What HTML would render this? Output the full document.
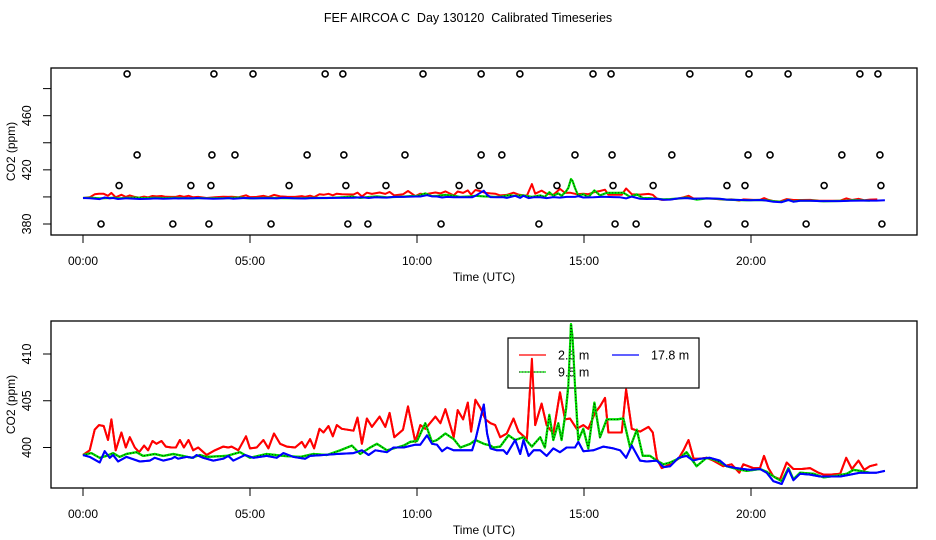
<!DOCTYPE html>
<html><head><meta charset="utf-8"><style>
html,body{margin:0;padding:0;background:#fff;}
svg{display:block;font-family:"Liberation Sans",sans-serif;}
</style></head><body>
<svg id="chart" width="936" height="540" viewBox="0 0 936 540" xmlns="http://www.w3.org/2000/svg">
<rect x="0" y="0" width="936" height="540" fill="#fff"/>
<text x="468" y="22" text-anchor="middle" font-size="12.5" style="white-space:pre" xml:space="preserve">FEF AIRCOA C  Day 130120  Calibrated Timeseries</text>
<g id="top"></g>
<g id="bot"></g>
</svg>
<script>
// ---- data (hours UTC, CO2 ppm) ----
const redT=[0,0.2,0.35,0.48,0.62,0.75,0.85,0.98,1.15,1.28,1.4,1.55,1.68,1.83,1.95,2.08,2.2,2.35,2.48,2.65,2.78,2.9,3.02,3.16,3.3,3.45,3.7,3.95,4.2,4.35,4.45,4.65,4.88,5,5.2,5.4,5.55,5.72,5.9,6.1,6.35,6.55,6.65,6.8,6.92,7.08,7.2,7.35,7.48,7.6,7.75,8.1,8.22,8.35,8.5,8.65,8.88,9.05,9.18,9.32,9.58,9.73,9.95,10.1,10.25,10.55,10.7,10.85,11.1,11.22,11.38,11.52,11.62,11.75,11.9,12.05,12.2,12.34,12.49,12.69,12.89,13.04,13.29,13.44,13.54,13.73,13.88,14.08,14.28,14.43,14.58,14.78,14.98,15.13,15.33,15.48,15.63,15.73,16.13,16.26,16.43,16.68,16.93,17.06,17.18,17.33,17.58,17.83,17.98,18.13,18.28,18.48,18.67,18.87,19.17,19.42,19.65,19.77,20.07,20.27,20.39,20.52,20.67,20.87,21.07,21.27,21.52,21.77,22.02,22.17,22.37,22.67,22.85,23.02,23.22,23.39,23.56,23.78];
const redV=[399.2,399.7,401.9,402.4,402.3,400.8,403.0,399.7,401.6,400.0,401.1,400.0,399.5,400.2,399.7,400.7,400.4,400.7,400.1,400.0,400.0,400.8,400.0,400.8,399.7,400.0,399.2,399.7,400.1,400.0,400.1,399.7,401.2,399.9,400.0,400.8,399.9,401.5,400.4,400.1,400.0,400.6,400.0,400.9,399.9,402.0,401.6,402.3,401.2,402.4,402.0,401.8,403.2,400.4,403.1,402.2,403.3,402.2,403.7,401.1,401.9,404.4,400.6,402.4,402.0,403.3,402.6,404.1,401.1,404.0,403.0,404.8,401.7,405.1,404.2,403.0,402.6,402.4,401.1,401.5,403.1,401.7,400.9,409.5,402.4,404.7,402.4,401.5,405.9,403.0,403.1,402.0,402.4,402.0,403.7,404.4,405.3,401.6,401.6,406.2,402.0,401.7,402.2,401.6,398.8,397.8,398.2,398.8,399.7,400.8,398.8,398.8,398.9,398.6,398.0,398.2,397.3,398.2,397.8,397.8,399.1,397.8,396.9,396.6,398.4,397.7,397.7,397.8,397.3,397.1,397.1,397.2,398.9,397.7,398.6,397.6,398.0,398.2];
const greenT=[0,0.25,0.5,0.7,0.9,1.1,1.3,1.6,1.8,2.15,2.4,2.7,3,3.25,3.5,3.7,4.3,4.7,5,5.5,6,6.5,6.9,7.3,7.7,8.05,8.3,8.6,8.8,9.1,9.4,9.6,9.8,10,10.25,10.45,10.6,10.85,11.1,11.3,11.6,11.75,12,12.2,12.29,12.49,12.74,12.94,13.19,13.44,13.69,13.83,13.96,14.08,14.23,14.33,14.46,14.53,14.61,14.66,14.73,14.83,14.98,15.13,15.31,15.48,15.68,15.98,16.18,16.38,16.58,16.76,16.98,17.18,17.38,17.58,17.88,18.07,18.37,18.67,18.97,19.27,19.57,19.87,20.27,20.47,20.72,20.92,21.12,21.27,21.47,21.87,22.17,22.57,22.87,23.07,23.27,23.56];
const greenV=[399.2,399.4,398.9,399.1,399.4,399.0,399.3,399.5,399.1,399.3,399.1,399.3,399.1,398.9,399.2,399.0,399.1,399.5,398.9,399.3,399.1,399.0,399.3,399.2,399.7,400.2,399.3,400.0,400.4,399.7,400.0,400.2,400.6,400.7,402.6,400.6,400.8,401.5,400.9,400.0,400.4,400.8,400.4,400.2,400.0,400.1,401.3,400.8,401.1,400.1,401.1,400.0,403.5,400.8,402.6,400.8,404.1,406.6,413.2,411.7,406.6,400.8,402.0,399.9,404.8,401.1,403.0,403.0,403.1,400.0,401.9,399.1,399.1,398.6,398.2,398.4,398.9,399.5,398.0,398.9,398.6,398.0,397.7,397.5,397.7,397.4,396.8,396.4,397.8,396.6,397.3,397.2,396.8,397.0,397.2,397.6,397.5,397.3];
const blueT=[0,0.2,0.5,0.65,0.8,0.9,1.05,1.3,1.7,2,2.15,2.4,2.65,2.75,2.85,3.1,3.3,3.4,3.6,3.9,4.2,4.35,4.5,4.85,5.1,5.5,5.8,6,6.3,6.65,6.8,7.2,7.6,8.1,8.35,8.55,8.75,9.1,9.3,9.6,9.95,10.1,10.3,10.45,10.6,10.75,10.9,11.1,11.4,11.65,11.75,12,12.1,12.2,12.39,12.59,12.69,12.94,13.09,13.19,13.34,13.49,13.69,13.88,14.08,14.28,14.48,14.73,14.83,14.98,15.28,15.58,15.88,16.08,16.26,16.43,16.68,16.88,17.18,17.38,17.58,17.83,18.07,18.27,18.47,18.77,19.07,19.27,19.57,19.97,20.27,20.47,20.67,20.92,21.12,21.27,21.47,21.77,22.07,22.37,22.67,22.97,23.27,23.56,23.76,24.01];
const blueV=[399.2,399.0,398.4,399.6,398.9,399.2,398.5,399.0,398.5,398.6,398.9,398.6,398.8,399.0,398.8,399.0,398.9,399.2,398.9,398.6,398.8,399.1,398.6,399.2,398.9,399.1,398.9,399.4,399.0,398.8,399.1,399.2,399.3,399.4,399.7,399.2,399.7,399.5,400.0,400.0,400.3,400.3,401.3,400.4,400.3,399.6,400.0,399.7,399.7,399.7,400.8,404.6,401.5,399.9,399.7,399.7,399.3,400.8,399.3,400.8,399.1,399.7,399.7,399.1,399.9,399.5,400.0,400.0,400.6,399.6,399.7,400.1,399.9,399.7,398.9,400.2,398.6,398.5,398.6,397.9,398.0,398.9,399.1,398.6,398.8,398.9,398.6,398.0,397.8,397.6,397.7,397.3,396.4,396.1,397.7,396.5,397.2,397.1,396.9,396.9,396.9,397.1,397.3,397.3,397.3,397.5];
// calibration/reference points in top panel
const ptT=[1.32,3.92,5.09,7.25,7.78,10.18,11.92,13.08,15.27,15.81,18.17,19.94,21.11,23.26,23.80,
 1.62,3.86,4.55,6.71,7.81,9.64,11.92,12.54,14.73,15.84,17.63,19.91,20.57,22.72,23.86,
 1.08,3.23,3.83,6.17,7.87,9.07,11.26,11.86,14.19,15.87,17.07,19.28,19.82,22.19,23.89,
 0.54,2.69,3.77,5.63,7.93,8.53,10.72,13.65,15.93,16.56,18.71,19.82,21.65,23.92];
const ptV=[490.8,490.8,490.8,490.8,490.8,490.8,490.8,490.8,490.8,490.8,490.8,490.8,490.8,490.8,490.8,
 431,431,431,431,431,431,431,431,431,431,431,431,431,431,431,
 408.4,408.4,408.4,408.4,408.4,408.4,408.4,408.4,408.4,408.4,408.4,408.4,408.4,408.4,408.4,
 380,380,380,380,380,380,380,380,380,380,380,380,380,380];
const xTickHours=[0,5,10,15,20];
const xTickLabels=["00:00","05:00","10:00","15:00","20:00"];
const topYTicks=[380,400,420,440,460,480];
const topYLabels=[380,420,460];
const botYTicks=[400,405,410];
const botYLabels=[400,405,410];
const seriesNames=["2.6 m","9.5 m","17.8 m"];

const NS="http://www.w3.org/2000/svg";
function mk(tag,attrs,parent){const e=document.createElementNS(NS,tag);for(const k in attrs)e.setAttribute(k,attrs[k]);parent.appendChild(e);return e;}
const X=h=>83+h*33.4;

function panel(g,box,yScale,yTicks,yLabels,name){
  const f=mk('rect',{x:box.x,y:box.y,width:box.w,height:box.h,fill:'none',stroke:'#000','stroke-width':1.3},g);
  
  
  const by=box.y+box.h;
  xTickHours.forEach((h,i)=>{
    const t=mk('line',{x1:X(h),x2:X(h),y1:by,y2:by+8,stroke:'#000'},g);
    
    
    const l=mk('text',{x:X(h),y:by+30,'text-anchor':'middle','font-size':12},g);
    l.textContent=xTickLabels[i];
    
    
  });
  yTicks.forEach(v=>{
    const y=yScale(v);
    const t=mk('line',{x1:box.x-8,x2:box.x,y1:y,y2:y,stroke:'#000'},g);
    
    
  });
  yLabels.forEach(v=>{
    const y=yScale(v);
    const l=mk('text',{x:0,y:0,'text-anchor':'middle','font-size':12.5,transform:`translate(31,${y}) rotate(-90)`},g);
    l.textContent=v;
    
    
  });
  const xl=mk('text',{x:484,y:by+46,'text-anchor':'middle','font-size':12},g);
  xl.textContent='Time (UTC)';
  
  
  const yl=mk('text',{x:0,y:0,'text-anchor':'middle','font-size':12,transform:`translate(15,${box.y+box.h/2}) rotate(-90)`},g);
  yl.textContent='CO2 (ppm)';
  
  
  const cid='clip-'+name;
  const cp=mk('clipPath',{id:cid},g);mk('rect',{x:box.x,y:box.y,width:box.w,height:box.h},cp);
  const sg=mk('g',{'clip-path':`url(#${cid})`},g);
  const pts=(T,V)=>T.map((t,i)=>X(t).toFixed(1)+','+yScale(V[i]).toFixed(1)).join(' ');
  const r=mk('polyline',{points:pts(redT,redV),fill:'none',stroke:'#f00','stroke-width':2,'stroke-linejoin':'round'},sg);
  
  
  const gr=mk('polyline',{points:pts(greenT,greenV),fill:'none',stroke:'#00e000','stroke-width':2.2,'stroke-linejoin':'round'},sg);
  
  
  mk('polyline',{points:pts(greenT,greenV),fill:'none',stroke:'#000','stroke-width':0.8,'stroke-dasharray':'1,2'},sg);
  const b=mk('polyline',{points:pts(blueT,blueV),fill:'none',stroke:'#00f','stroke-width':2,'stroke-linejoin':'round'},sg);
  
  
  return sg;
}

// top panel
const topBox={x:51,y:68,w:866,h:167};
const topY=v=>224-(v-380)*1.354;
const topG=document.getElementById('top');
const topSg=panel(topG,topBox,topY,topYTicks,topYLabels,'top');
ptT.forEach((t,i)=>{
  const c=mk('circle',{cx:X(t),cy:topY(ptV[i]),r:3,fill:'none',stroke:'#000','stroke-width':1.6},topG);
  
  
});

// bottom panel
const botBox={x:51,y:321,w:866,h:167};
const botY=v=>447.5-(v-400)*9.35;
const botG=document.getElementById('bot');
panel(botG,botBox,botY,botYTicks,botYLabels,'bottom');

// legend
const lg=mk('g',{},botG);


mk('rect',{x:508,y:338,width:191,height:50,fill:'#fff',stroke:'#000','stroke-width':1.2},lg);
const leg=[{x:519,y:355,c:'#f00'},{x:519,y:372,c:'#00e000'},{x:612,y:355,c:'#00f'}];
leg.forEach((e,i)=>{
  const l=mk('line',{x1:e.x,x2:e.x+27,y1:e.y,y2:e.y,stroke:e.c,'stroke-width':1.2},lg);
  
  
  if(i===1)mk('line',{x1:e.x,x2:e.x+27,y1:e.y,y2:e.y,stroke:'#000','stroke-width':0.8,'stroke-dasharray':'1,2'},lg);
  const t=mk('text',{x:e.x+39,y:e.y+4.5,'font-size':12.5},lg);
  t.textContent=seriesNames[i];
  
  
});
// series drawn over the legend (as in reference)
const cp2=mk('clipPath',{id:'clip-legover'},botG);mk('rect',{x:51,y:321,width:866,height:167},cp2);
const og=mk('g',{'clip-path':'url(#clip-legover)'},botG);
const pts2=(T,V)=>T.map((t,i)=>X(t).toFixed(1)+','+botY(V[i]).toFixed(1)).join(' ');
mk('polyline',{points:pts2(redT,redV),fill:'none',stroke:'#f00','stroke-width':2,'stroke-linejoin':'round'},og);
mk('polyline',{points:pts2(greenT,greenV),fill:'none',stroke:'#00e000','stroke-width':2.2,'stroke-linejoin':'round'},og);
mk('polyline',{points:pts2(greenT,greenV),fill:'none',stroke:'#000','stroke-width':0.8,'stroke-dasharray':'1,2'},og);
mk('polyline',{points:pts2(blueT,blueV),fill:'none',stroke:'#00f','stroke-width':2,'stroke-linejoin':'round'},og);
</script>
</body></html>
